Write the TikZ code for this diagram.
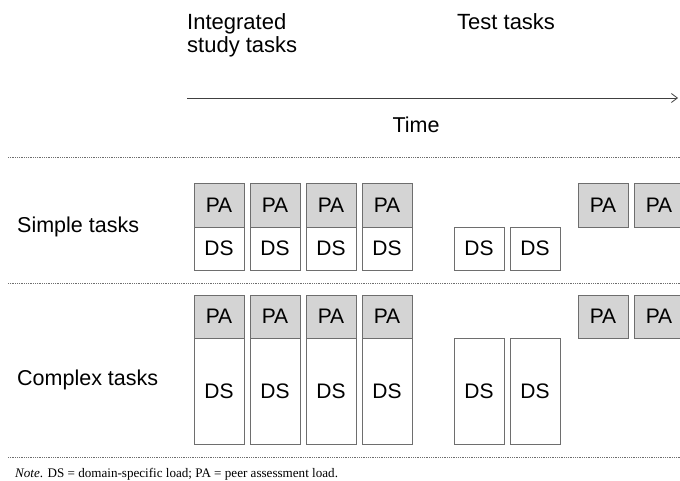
\documentclass[tikz,border=0pt]{standalone}
\usepackage{fontspec}
\setmainfont{Liberation Sans}
\newfontfamily\notefont{Liberation Serif}
\usetikzlibrary{positioning, arrows.meta}

\definecolor{boxgray}{HTML}{D4D4D4}
\definecolor{edgegray}{HTML}{6E6E6E}

\begin{document}
\begin{tikzpicture}[x=1pt, y=-1pt, inner sep=0pt,
    box/.style={draw=edgegray, line width=0.9pt, minimum width=50pt, outer sep=0pt,
      font=\fontsize{21}{22}\selectfont},
    pa/.style={box, fill=boxgray, minimum height=44pt},
    ds/.style={box, fill=white, minimum height=43pt},
    dsbig/.style={box, fill=white, minimum height=106pt},
    head/.style={font=\fontsize{22}{23.5}\selectfont, align=left},
    rowlabel/.style={font=\fontsize{21.5}{22}\selectfont, anchor=west},
    sep/.style={edgegray, densely dotted, line width=0.8pt}]
  \useasboundingbox (0,0) rectangle (680,481);

  % header and time axis
  \node[head, anchor=north west] (study) at (187,13) {Integrated\\study tasks};
  \node[head, anchor=north west] (test)  at (457,13) {Test tasks};
  \coordinate (t_start) at (187,98);
  \coordinate (t_end)   at (678,98);
  \draw[-{Straight Barb[length=6pt,width=9pt]}, line width=0.8pt, black!75] (t_start) -- (t_end);
  \node[font=\fontsize{21.5}{22}\selectfont] (time) at (416,125) {Time};

  % separators
  \draw[sep] (8,157) -- (680,157);
  \draw[sep] (8,283) -- (680,283);
  \draw[sep] (8,457) -- (680,457);

  % simple tasks
  \node[rowlabel] (simple) at (17,227) {Simple tasks};
  \node[pa] (s_pa1) at (219,205) {PA};
  \node[pa] (s_pa2) [right=6pt of s_pa1] {PA};
  \node[pa] (s_pa3) [right=6pt of s_pa2] {PA};
  \node[pa] (s_pa4) [right=6pt of s_pa3] {PA};
  \node[ds] (s_ds1) [below=0pt of s_pa1] {DS};
  \node[ds] (s_ds2) [below=0pt of s_pa2] {DS};
  \node[ds] (s_ds3) [below=0pt of s_pa3] {DS};
  \node[ds] (s_ds4) [below=0pt of s_pa4] {DS};
  \node[ds] (s_dt1) at (479,248.5) {DS};
  \node[ds] (s_dt2) [right=6pt of s_dt1] {DS};
  \node[pa] (s_pt1) at (603,205) {PA};
  \node[pa] (s_pt2) [right=6pt of s_pt1] {PA};

  % complex tasks
  \node[rowlabel] (complex) at (17,380) {Complex tasks};
  \node[pa, minimum height=43pt] (c_pa1) at (219,316.5) {PA};
  \node[pa, minimum height=43pt] (c_pa2) [right=6pt of c_pa1] {PA};
  \node[pa, minimum height=43pt] (c_pa3) [right=6pt of c_pa2] {PA};
  \node[pa, minimum height=43pt] (c_pa4) [right=6pt of c_pa3] {PA};
  \node[dsbig] (c_ds1) [below=0pt of c_pa1] {DS};
  \node[dsbig] (c_ds2) [below=0pt of c_pa2] {DS};
  \node[dsbig] (c_ds3) [below=0pt of c_pa3] {DS};
  \node[dsbig] (c_ds4) [below=0pt of c_pa4] {DS};
  \node[dsbig] (c_dt1) at (479,391) {DS};
  \node[dsbig] (c_dt2) [right=6pt of c_dt1] {DS};
  \node[pa, minimum height=43pt] (c_pt1) at (603,316.5) {PA};
  \node[pa, minimum height=43pt] (c_pt2) [right=6pt of c_pt1] {PA};

  % note
  \node[anchor=base west, font=\notefont\fontsize{13.1}{14}\selectfont] (note) at (15,477)
    {\textit{Note}. DS = domain-specific load; PA = peer assessment load.};
\end{tikzpicture}
\end{document}
